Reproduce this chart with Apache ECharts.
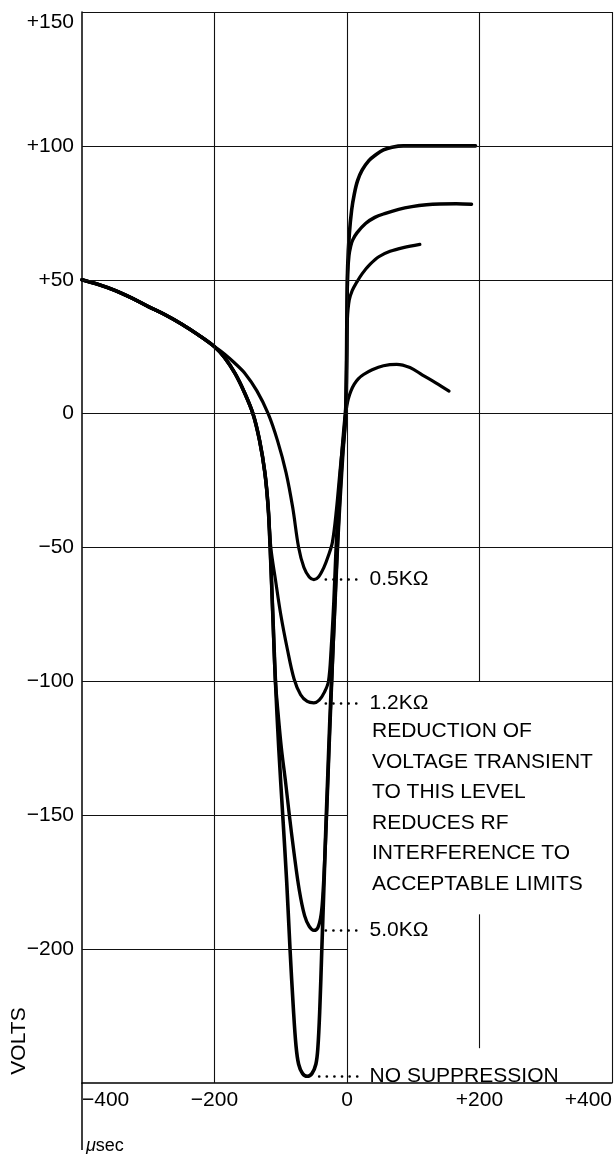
<!DOCTYPE html>
<html>
<head>
<meta charset="utf-8">
<title>Voltage transient</title>
<script src="https://cdn.jsdelivr.net/npm/echarts@6/dist/echarts.min.js"></script>
<style>
    html, body { margin: 0; padding: 0; background: #fff; }
    #chart { width: 615px; height: 1154px; }
</style>
</head>
<body>
<div id="chart"></div>
<script>
// axis ticks + labels
const xTicks = [-400, -200, 0, 200, 400];
const xTickLabels = ['\u2212400', '\u2212200', '0', '+200', '+400'];
const yTicks = [150, 100, 50, 0, -50, -100, -150, -200, -250];
const yTickLabels = ['+150', '+100', '+50', '0', '\u221250', '\u2212100', '\u2212150', '\u2212200', ''];

// common start of all four curves
const trunk = [[-400, 50], [-375, 48.2], [-350, 46], [-325, 43.2], [-300, 40], [-275, 37], [-250, 33.5], [-225, 29.5], [-200, 25]];
// part shared by 1.2K, 5.0K and no suppression
const innerTrunk = [[-185, 21], [-169, 15], [-155, 8], [-142, 0], [-132, -10], [-124, -22], [-119, -35]];

const curve05 = [[-185, 22.3], [-170, 19], [-154, 15], [-136, 8.5], [-119, 0], [-105, -10], [-92, -22], [-82, -35], [-73, -50],
    [-65, -57.5], [-57, -61], [-50, -62], [-43, -61], [-35, -57.5], [-28, -53], [-22, -48], [-16, -36], [-10, -20], [-5, -8],
    [-2, 0], [-0.5, 2.5], [2, 5.5], [6, 8.5], [11, 11], [17, 13], [25, 14.6], [38, 16.4], [55, 17.9], [75, 18.4], [95, 17.2],
    [114, 14.4], [134, 11.5], [154, 8.4]];

const curve12 = [[-115, -50], [-108, -62], [-100, -75], [-90, -88], [-80, -99], [-70, -105], [-60, -107.5], [-50, -108],
    [-42, -107], [-34, -104], [-28, -100], [-24, -88], [-20, -70], [-17, -52], [-13, -33], [-9, -18], [-5, -6], [-2, 3],
    [-0.5, 22], [0.5, 35], [3.4, 42.4], [8, 46], [14, 48.8], [23, 52.3], [35, 55.8], [48, 58.6], [65, 60.6], [85, 62],
    [110, 63.2]];

const curve50 = [[-116, -50], [-112, -75], [-108, -100], [-104, -112], [-99, -125], [-93, -137], [-87, -150], [-80, -164],
    [-72, -178], [-64, -187.5], [-57, -191.5], [-50, -193], [-44, -192], [-39, -187], [-36, -178], [-33, -163], [-30, -145],
    [-27, -125], [-23, -100], [-19, -75], [-15, -52], [-11, -32], [-7, -16], [-3, -4], [-1, 5], [0, 35], [1, 52], [3, 59],
    [5.5, 62.5], [8.5, 64.8], [15, 67.5], [28, 71], [42, 73.3], [58, 74.8], [78, 76.3], [98, 77.3], [120, 78], [140, 78.3],
    [165, 78.4], [188, 78.2]];

const curveNS = [[-116, -50], [-112, -75], [-108, -100], [-103, -125], [-97, -150], [-91, -175], [-86, -200], [-81, -222],
    [-77, -236], [-73, -243], [-67, -246.5], [-60, -247.5], [-53, -246.5], [-47, -243], [-44, -237], [-41, -222], [-38, -200],
    [-35, -178], [-32, -155], [-29, -135], [-26, -115], [-22, -92], [-18, -70], [-14, -48], [-10, -30], [-6, -14], [-2, 0],
    [0, 40], [1, 55], [3.5, 67], [7, 76], [11, 82], [16, 87], [23, 91], [33, 94.5], [43, 96.6], [55, 98.5], [68, 99.5],
    [85, 100], [140, 100], [194, 100]];

const noteLines = ['REDUCTION OF', 'VOLTAGE TRANSIENT', 'TO THIS LEVEL', 'REDUCES RF', 'INTERFERENCE TO', 'ACCEPTABLE LIMITS'];

const FONT = '"Liberation Sans", Arial, Helvetica, sans-serif';
const FS = 21;

function curve(name, pts, w) {
    const ys = pts.map(p => p[1]);
    const yMin = Math.min(...ys);
    const xMin = pts[ys.indexOf(yMin)][0];
    return {
        type: 'line',
        name: name,
        data: pts,
        smooth: 0.35,
        showSymbol: false,
        symbol: 'none',
        lineStyle: { color: '#000', width: w, join: 'round', cap: 'round' },
        markLine: {
            silent: true,
            symbol: ['none', 'none'],
            lineStyle: { color: '#000', width: 2.6, type: [0.1, 7.5], cap: 'round' },
            label: { show: true, position: 'end', formatter: name, distance: 12, color: '#000', fontSize: FS, fontFamily: FONT },
            data: [[{ coord: [xMin + 18, yMin] }, { coord: [16, yMin] }]]
        }
    };
}

// grid lines, some only partial like the original
const gl = (x1, y1, x2, y2) => [{ coord: [x1, y1] }, { coord: [x2, y2] }];
const gridSeries = {
    type: 'line',
    data: [],
    silent: true,
    markLine: {
        silent: true,
        symbol: ['none', 'none'],
        label: { show: false },
        lineStyle: { color: '#111', width: 1.1, type: 'solid' },
        data: [
            gl(-400, 150, 400, 150), gl(-400, 100, 400, 100), gl(-400, 50, 400, 50), gl(-400, 0, 400, 0),
            gl(-400, -50, 400, -50), gl(-400, -100, 400, -100), gl(-400, -150, 0, -150), gl(-400, -200, 0, -200),
            gl(-200, -250, -200, 150), gl(0, -250, 0, 150), gl(200, -100, 200, 150), gl(200, -187, 200, -237),
            gl(400, -250, 400, 150)
        ]
    }
};

const chart = echarts.init(document.getElementById('chart'));
chart.setOption({
    backgroundColor: '#fff',
    animation: false,
    grid: { left: 82, top: 12, width: 532, height: 1071 },
    xAxis: {
        type: 'value', min: -400, max: 400, interval: 200,
        axisLine: { show: true, onZero: false, lineStyle: { color: '#000', width: 1.5 } },
        axisTick: { show: false },
        splitLine: { show: false },
        axisLabel: {
            color: '#000', fontSize: FS, fontFamily: FONT, margin: 7,
            alignMinLabel: 'left', alignMaxLabel: 'right',
            formatter: v => xTickLabels[xTicks.indexOf(v)]
        }
    },
    yAxis: {
        type: 'value', min: -250, max: 150, interval: 50,
        axisLine: { show: true, onZero: false, lineStyle: { color: '#000', width: 1.5 } },
        axisTick: { show: false },
        splitLine: { show: false },
        axisLabel: {
            color: '#000', fontSize: FS, fontFamily: FONT, margin: 8,
            verticalAlignMaxLabel: 'top',
            formatter: v => yTickLabels[yTicks.indexOf(v)]
        }
    },
    series: [
        gridSeries,
        curve('0.5K\u03A9', trunk.concat(curve05), 3.2),
        curve('1.2K\u03A9', trunk.concat(innerTrunk, curve12), 3.2),
        curve('5.0K\u03A9', trunk.concat(innerTrunk, curve50), 3.4),
        curve('NO SUPPRESSION', trunk.concat(innerTrunk, curveNS), 3.6)
    ],
    graphic: [
        {
            type: 'text', x: 372, y: 716,
            style: { text: noteLines.join('\n'), fill: '#000', fontSize: FS, fontFamily: FONT, lineHeight: 30.5 }
        },
        {
            type: 'text', x: 19, y: 1041, rotation: Math.PI / 2,
            style: { text: 'VOLTS', fill: '#000', fontSize: FS, fontFamily: FONT, align: 'center', verticalAlign: 'middle' }
        },
        {
            type: 'line', shape: { x1: 82, y1: 1083, x2: 82, y2: 1150 },
            style: { stroke: '#000', lineWidth: 1.5 }
        },
        {
            type: 'text', x: 86, y: 1137,
            style: {
                text: '{m|\u03BC}sec', fill: '#000', fontSize: 18, fontFamily: FONT,
                rich: { m: { fontStyle: 'italic', fontSize: 18, fontFamily: FONT } }
            }
        }
    ]
});
</script>
</body>
</html>
